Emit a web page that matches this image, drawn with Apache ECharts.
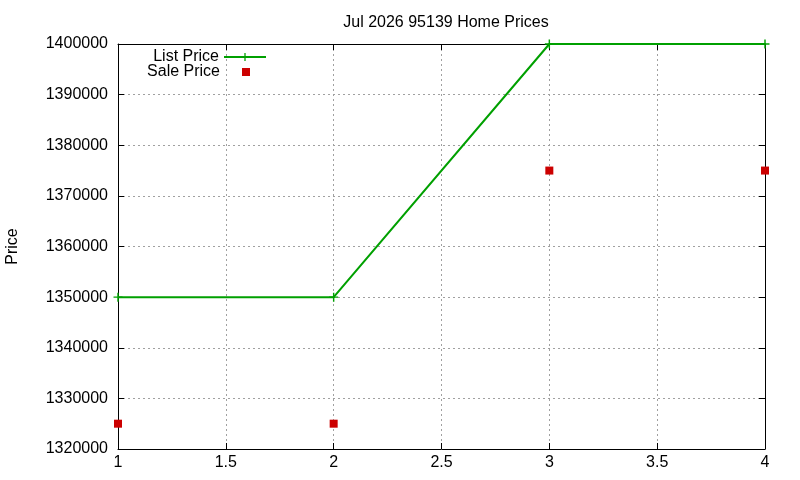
<!DOCTYPE html>
<html>
<head>
<meta charset="utf-8">
<script src="https://cdn.jsdelivr.net/npm/echarts@6/dist/echarts.min.js"></script>
<style>
  html, body { margin: 0; padding: 0; background: #fff; }
  #chart { width: 800px; height: 480px; }
</style>
</head>
<body>
<div id="chart"></div>
<script>
const months = [1, 2, 3, 4];
const listPrice = [1350000, 1350000, 1400000, 1400000];
const salePrice = [1325000, 1325000, 1375000, 1375000];

const font = "Liberation Sans, Arial, sans-serif";
const plus = "path://M4.2,0H5.8V4.2H10V5.8H5.8V10H4.2V5.8H0V4.2H4.2Z";
// small square sitting in the middle of the wide legend slot
const legendSquare = "path://M0,0L0,0M42,10L42,10M17,1H25V9H17Z";

function pairs(xs, ys) {
  return xs.map((x, i) => [x, ys[i]]);
}

const boxAxis = {
  axisLine: { show: true, lineStyle: { color: "#000", width: 1 } },
  axisTick: { show: true, inside: true, length: 6, lineStyle: { color: "#000" } },
  axisLabel: { show: false },
  splitLine: { show: false },
};

// one legend per entry so both keys line up on the right like gnuplot's
function keyEntry(name, top, icon) {
  return {
    orient: "vertical",
    right: 533,
    top: top,
    align: "right",
    itemWidth: 42,
    itemHeight: 10,
    padding: 0,
    textStyle: { fontFamily: font, fontSize: 16, color: "#000" },
    data: [icon ? { name: name, icon: icon } : name],
  };
}

const option = {
  backgroundColor: "#fff",
  animation: false,
  textStyle: { fontFamily: font },
  title: {
    text: "Jul 2026 95139 Home Prices",
    left: 441,
    textAlign: "center",
    top: 10,
    textStyle: { fontFamily: font, fontSize: 16, fontWeight: "normal", color: "#000" },
  },
  legend: [keyEntry("List Price", 49), keyEntry("Sale Price", 64, legendSquare)],
  grid: { left: 118, right: 35, top: 44, bottom: 31, outerBoundsMode: "none" },
  xAxis: [
    {
      type: "value",
      min: 1,
      max: 4,
      interval: 0.5,
      axisLine: { show: true, lineStyle: { color: "#000", width: 1 } },
      axisTick: { show: true, inside: true, length: 6, lineStyle: { color: "#000" } },
      axisLabel: { color: "#000", fontSize: 16, fontFamily: font, margin: 6 },
      splitLine: { show: true, lineStyle: { color: "#a0a0a0", type: [2, 3], width: 1 } },
    },
    Object.assign({ type: "value", position: "top", min: 1, max: 4, interval: 0.5 }, boxAxis),
  ],
  yAxis: [
    {
      type: "value",
      min: 1320000,
      max: 1400000,
      interval: 10000,
      name: "Price",
      nameLocation: "middle",
      nameRotate: 90,
      nameGap: 97,
      nameTextStyle: { color: "#000", fontSize: 16, fontFamily: font },
      axisLine: { show: true, lineStyle: { color: "#000", width: 1 } },
      axisTick: { show: true, inside: true, length: 6, lineStyle: { color: "#000" } },
      axisLabel: { color: "#000", fontSize: 16, fontFamily: font, margin: 10, formatter: (v) => String(v) },
      splitLine: { show: true, lineStyle: { color: "#a0a0a0", type: [2, 3], width: 1 } },
    },
    Object.assign({ type: "value", position: "right", min: 1320000, max: 1400000, interval: 10000 }, boxAxis),
  ],
  series: [
    {
      name: "List Price",
      type: "line",
      data: pairs(months, listPrice),
      symbol: plus,
      symbolSize: 9,
      clip: false,
      itemStyle: { color: "#00a000" },
      lineStyle: { color: "#00a000", width: 2 },
      z: 3,
    },
    {
      name: "Sale Price",
      type: "scatter",
      data: pairs(months, salePrice),
      symbol: "rect",
      symbolSize: 8,
      clip: false,
      itemStyle: { color: "#cc0000", opacity: 1 },
      z: 3,
    },
  ],
};

const chart = echarts.init(document.getElementById("chart"));
chart.setOption(option);
</script>
</body>
</html>
